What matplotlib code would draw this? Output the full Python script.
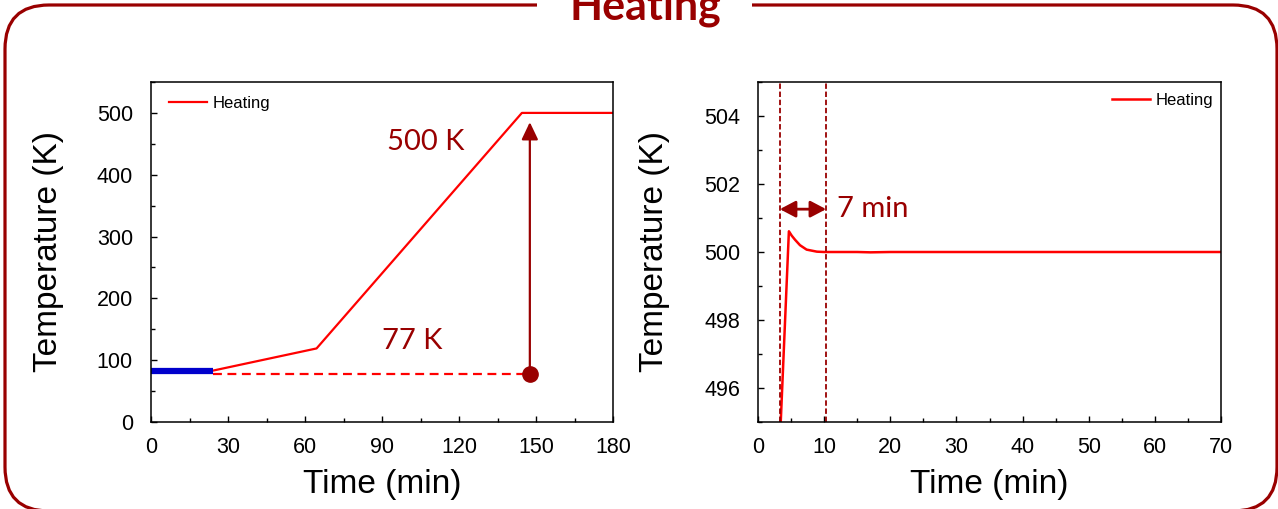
import matplotlib
matplotlib.use("Agg")
import matplotlib.pyplot as plt
from matplotlib.patches import FancyBboxPatch, Rectangle
from matplotlib.ticker import MultipleLocator

plt.rcParams['font.family'] = ['Liberation Sans', 'DejaVu Sans']

# ---- data -------------------------------------------------------------
# full heating run (left panel)
run_time = [0, 24, 64.5, 144.5, 180]
run_temp = [83, 83, 119, 500, 500]
hold_time = [0, 24]            # low-temperature hold
hold_temp = [83, 83]
base_level = 77                # K, starting level
target_level = 500             # K, set point
marker_time = 147.6
base_line_time = [24, marker_time]

# settling around the set point (right panel)
zoom_time = [3.0, 4.67, 5.1, 5.6, 6.35, 7.35, 8.9, 10.0, 15.0, 17.0, 20.0, 70.0]
zoom_temp = [493.0, 500.61, 500.48, 500.36, 500.20, 500.07, 500.01, 500.0,
             500.0, 499.99, 500.0, 500.0]
settle_start = 3.3
settle_minutes = 7
settle_end = settle_start + settle_minutes
span_level = 501.26

left_xticks = [0, 30, 60, 90, 120, 150, 180]
left_yticks = [0, 100, 200, 300, 400, 500]
right_xticks = [0, 10, 20, 30, 40, 50, 60, 70]
right_yticks = [496, 498, 500, 502, 504]

DARK = '#990000'
W, H = 1278, 509

fig = plt.figure(figsize=(W / 100, H / 100), dpi=100)

# ---- rounded frame with title, drawn in pixel units (y measured upward) --
bg = fig.add_axes([0, 0, 1, 1], zorder=0)
bg.set_xlim(0, W)
bg.set_ylim(0, H)
bg.axis('off')
bg.add_patch(FancyBboxPatch((5, -2), 1272, 506,
                            boxstyle="round,pad=0,rounding_size=44",
                            fill=False, ec=DARK, lw=2.3, clip_on=False))
bg.add_patch(Rectangle((537, H - 12), 215, 14, fc='white', ec='none',
                       zorder=3, clip_on=False))
bg.text(645, H - 19, 'Heating', ha='center', va='baseline', color=DARK,
        fontsize=31, fontweight='bold', family=['Lato', 'DejaVu Sans'], zorder=4)


def style(ax):
    ax.tick_params(which='both', direction='in', top=False, right=False,
                   labelsize=15.5, width=1)
    ax.tick_params(which='major', length=4.3)
    ax.tick_params(which='minor', length=2.6)
    ax.tick_params(axis='x', pad=10.5)
    ax.tick_params(axis='y', pad=13)
    for s in ax.spines.values():
        s.set_linewidth(1.1)
    ax.set_xlabel('Time (min)', fontsize=24)
    ax.set_ylabel('Temperature (K)', fontsize=24)
    ax.xaxis.set_label_coords(0.5, -0.183)
    ax.xaxis.label.set_va('center')
    ax.yaxis.set_label_coords(-0.2225, 0.5)
    ax.yaxis.label.set_va('center')


ax_b = (H - 422) / H
ax_h = 340 / H

# ---- left panel -----------------------------------------------------------
ax1 = fig.add_axes([151 / W, ax_b, 462 / W, ax_h], zorder=2)
ax1.plot(run_time, run_temp, color='red', lw=1.6, label='Heating')
ax1.plot(hold_time, hold_temp, color='#0000CC', lw=4.5, solid_capstyle='butt')
ax1.plot(base_line_time, [base_level, base_level], color='red', lw=1.6,
         ls=(0, (4, 2.5)))
ax1.annotate('', xy=(marker_time, 485), xytext=(marker_time, base_level),
             arrowprops=dict(arrowstyle='-|>,head_length=1.05,head_width=0.5',
                             mutation_scale=10, color=DARK, lw=1.6,
                             shrinkA=0, shrinkB=0))
ax1.plot([marker_time], [base_level], 'o', color=DARK, ms=11, zorder=5)
ax1.text(107, 453, f'{target_level} K', color=DARK, fontsize=21,
         ha='center', va='center', family=['Lato', 'DejaVu Sans'])
ax1.text(101.7, 131, f'{base_level} K', color=DARK, fontsize=21,
         ha='center', va='center', family=['Lato', 'DejaVu Sans'])
ax1.set_xlim(0, 180)
ax1.set_ylim(0, 550)
ax1.set_xticks(left_xticks)
ax1.set_yticks(left_yticks)
ax1.xaxis.set_minor_locator(MultipleLocator(15))
ax1.yaxis.set_minor_locator(MultipleLocator(50))
style(ax1)
ax1.legend(loc='upper left', bbox_to_anchor=(0.039, 0.960), frameon=False,
           fontsize=12, handlelength=2.3, handletextpad=0.3,
           borderpad=0, borderaxespad=0)

# ---- right panel ----------------------------------------------------------
ax2 = fig.add_axes([758 / W, ax_b, 463 / W, ax_h], zorder=2)
ax2.plot(zoom_time, zoom_temp, color='red', lw=1.8, label='Heating')
for t in (settle_start, settle_end):
    ax2.axvline(t, color=DARK, lw=1.3, ls=(0, (3, 1.5)))
ax2.annotate('', xy=(settle_end, span_level), xytext=(settle_start, span_level),
             arrowprops=dict(arrowstyle='<|-|>,head_length=0.95,head_width=0.5',
                             mutation_scale=10, color=DARK, lw=2,
                             shrinkA=0, shrinkB=0))
ax2.text(12.0, span_level, f'{settle_minutes} min', color=DARK, fontsize=21,
         ha='left', va='center', family=['Lato', 'DejaVu Sans'])
ax2.set_xlim(0, 70)
ax2.set_ylim(495, 505)
ax2.set_xticks(right_xticks)
ax2.set_yticks(right_yticks)
ax2.xaxis.set_minor_locator(MultipleLocator(5))
ax2.yaxis.set_minor_locator(MultipleLocator(1))
style(ax2)
ax2.legend(loc='upper right', bbox_to_anchor=(0.9827, 0.967), frameon=False,
           fontsize=12, handlelength=2.3, handletextpad=0.3,
           borderpad=0, borderaxespad=0)

fig.savefig('out.png', dpi=100)
